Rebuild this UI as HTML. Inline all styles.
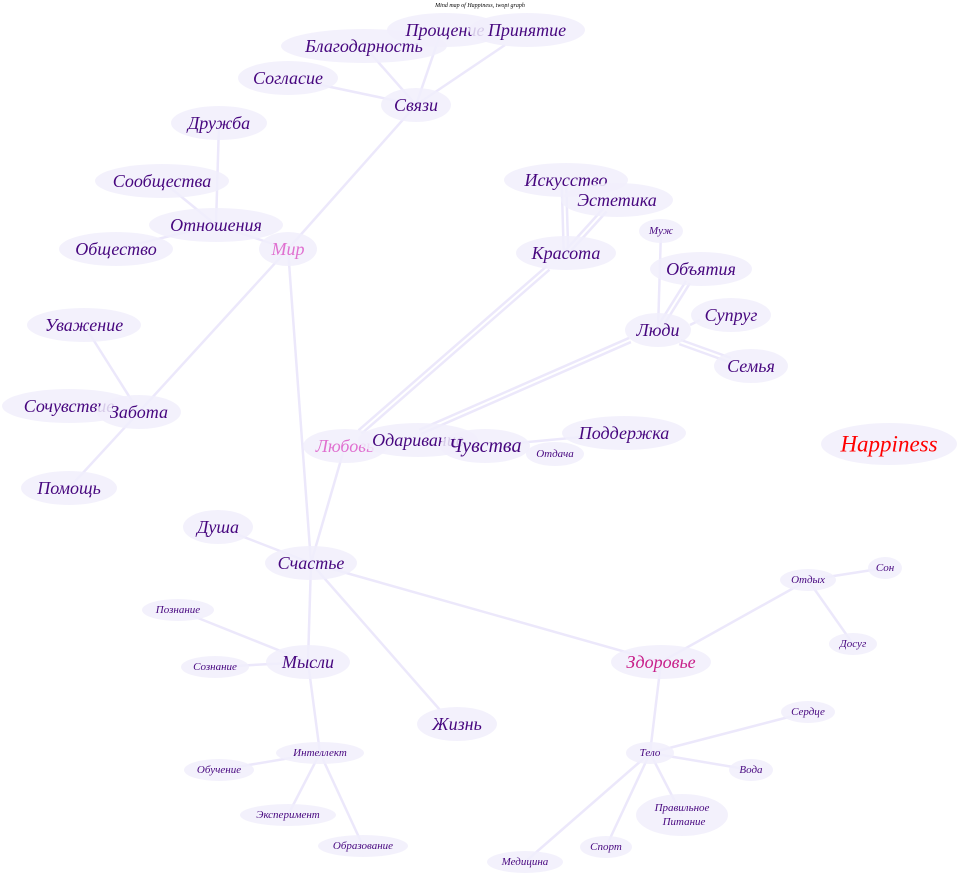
<!DOCTYPE html>
<html><head><meta charset="utf-8">
<style>
html,body{margin:0;padding:0;background:#fff;}
svg{display:block;}
text{font-family:"Liberation Serif",serif;font-style:italic;text-anchor:middle;dominant-baseline:central;fill:#47077f;}
.e{stroke:#ece8fb;stroke-width:2.5;fill:none;}
.d{stroke:#ece8fb;stroke-width:7;fill:none;}
.dw{stroke:#fff;stroke-width:2;fill:none;}
ellipse{fill:#f1effc;fill-opacity:0.85;}
</style></head><body>
<svg width="960" height="878" viewBox="0 0 960 878" xmlns="http://www.w3.org/2000/svg">
<g>
<line class="e" x1="416" y1="105" x2="364" y2="46"/>
<line class="e" x1="416" y1="105" x2="440" y2="35"/>
<line class="e" x1="416" y1="105" x2="505" y2="45"/>
<line class="e" x1="416" y1="105" x2="288" y2="78"/>
<line class="e" x1="416" y1="105" x2="288" y2="249"/>
<line class="e" x1="216" y1="225" x2="219" y2="123"/>
<line class="e" x1="216" y1="225" x2="162" y2="181"/>
<line class="e" x1="216" y1="225" x2="116" y2="249"/>
<line class="e" x1="216" y1="225" x2="288" y2="249"/>
<line class="e" x1="288" y1="249" x2="139" y2="412"/>
<line class="e" x1="288" y1="249" x2="311" y2="563"/>
<line class="e" x1="139" y1="412" x2="84" y2="325"/>
<line class="e" x1="139" y1="412" x2="69" y2="406"/>
<line class="e" x1="139" y1="412" x2="69" y2="488"/>
<line class="e" x1="661" y1="231" x2="658" y2="330"/>
<line class="e" x1="485" y1="446" x2="624" y2="433"/>
<line class="e" x1="345" y1="446" x2="311" y2="563"/>
<line class="e" x1="311" y1="563" x2="218" y2="527"/>
<line class="e" x1="311" y1="563" x2="308" y2="662"/>
<line class="e" x1="311" y1="563" x2="440" y2="710"/>
<line class="e" x1="311" y1="563" x2="661" y2="662"/>
<line class="e" x1="308" y1="662" x2="178" y2="610"/>
<line class="e" x1="308" y1="662" x2="215" y2="667"/>
<line class="e" x1="308" y1="662" x2="320" y2="753"/>
<line class="e" x1="320" y1="753" x2="219" y2="770"/>
<line class="e" x1="320" y1="753" x2="288" y2="815"/>
<line class="e" x1="320" y1="753" x2="363" y2="846"/>
<line class="e" x1="661" y1="662" x2="808" y2="580"/>
<line class="e" x1="661" y1="662" x2="650" y2="753"/>
<line class="e" x1="808" y1="580" x2="885" y2="568"/>
<line class="e" x1="808" y1="580" x2="853" y2="644"/>
<line class="e" x1="650" y1="753" x2="808" y2="712"/>
<line class="e" x1="650" y1="753" x2="751" y2="770"/>
<line class="e" x1="650" y1="753" x2="682" y2="815"/>
<line class="e" x1="650" y1="753" x2="606" y2="847"/>
<line class="e" x1="650" y1="753" x2="525" y2="862"/>
<line class="d" x1="566" y1="253" x2="564" y2="185"/><line class="dw" x1="566" y1="253" x2="564" y2="185"/>
<line class="d" x1="566" y1="253" x2="605" y2="210"/><line class="dw" x1="566" y1="253" x2="605" y2="210"/>
<line class="d" x1="548" y1="268" x2="360" y2="432"/><line class="dw" x1="548" y1="268" x2="360" y2="432"/>
<line class="d" x1="658" y1="330" x2="688" y2="282"/><line class="dw" x1="658" y1="330" x2="688" y2="282"/>
<line class="d" x1="680" y1="342" x2="730" y2="360"/><line class="dw" x1="680" y1="342" x2="730" y2="360"/>
<line class="d" x1="630" y1="340" x2="420" y2="432"/><line class="dw" x1="630" y1="340" x2="420" y2="432"/>
<line class="e" x1="690" y1="325" x2="700" y2="320"/>
</g>
<text x="480" y="6" style="font-size:6px;fill:#000">Mind map of Happiness, twopi graph</text>
<ellipse cx="364" cy="46" rx="83" ry="17"/><text x="364" y="46" font-size="18">Благодарность</text>
<ellipse cx="445" cy="30" rx="58" ry="17"/><text x="445" y="30" font-size="18">Прощение</text>
<ellipse cx="527" cy="30" rx="58" ry="17"/><text x="527" y="30" font-size="18">Принятие</text>
<ellipse cx="288" cy="78" rx="50" ry="17"/><text x="288" y="78" font-size="18">Согласие</text>
<ellipse cx="416" cy="105" rx="35" ry="17"/><text x="416" y="105" font-size="18">Связи</text>
<ellipse cx="219" cy="123" rx="48" ry="17"/><text x="219" y="123" font-size="18">Дружба</text>
<ellipse cx="162" cy="181" rx="67" ry="17"/><text x="162" y="181" font-size="18">Сообщества</text>
<ellipse cx="216" cy="225" rx="67" ry="17"/><text x="216" y="225" font-size="18">Отношения</text>
<ellipse cx="116" cy="249" rx="57" ry="17"/><text x="116" y="249" font-size="18">Общество</text>
<ellipse cx="288" cy="249" rx="29" ry="17"/><text x="288" y="249" font-size="18" style="fill:#e070d0">Мир</text>
<ellipse cx="566" cy="180" rx="62" ry="17"/><text x="566" y="180" font-size="18">Искусство</text>
<ellipse cx="617" cy="200" rx="56" ry="17"/><text x="617" y="200" font-size="18">Эстетика</text>
<ellipse cx="661" cy="231" rx="22" ry="12"/><text x="661" y="231" font-size="11">Муж</text>
<ellipse cx="566" cy="253" rx="50" ry="17"/><text x="566" y="253" font-size="18">Красота</text>
<ellipse cx="701" cy="269" rx="51" ry="17"/><text x="701" y="269" font-size="18">Объятия</text>
<ellipse cx="731" cy="315" rx="40" ry="17"/><text x="731" y="315" font-size="18">Супруг</text>
<ellipse cx="658" cy="330" rx="33" ry="17"/><text x="658" y="330" font-size="18">Люди</text>
<ellipse cx="751" cy="366" rx="37" ry="17"/><text x="751" y="366" font-size="18">Семья</text>
<ellipse cx="84" cy="325" rx="57" ry="17"/><text x="84" y="325" font-size="18">Уважение</text>
<ellipse cx="69" cy="406" rx="67" ry="17"/><text x="69" y="406" font-size="18">Сочувствие</text>
<ellipse cx="139" cy="412" rx="42" ry="17"/><text x="139" y="412" font-size="18">Забота</text>
<ellipse cx="69" cy="488" rx="48" ry="17"/><text x="69" y="488" font-size="18">Помощь</text>
<ellipse cx="345" cy="446" rx="42" ry="17"/><text x="345" y="446" font-size="18" style="fill:#e070d0">Любовь</text>
<ellipse cx="418" cy="440" rx="60" ry="17"/><text x="418" y="440" font-size="18">Одаривание</text>
<ellipse cx="485" cy="446" rx="45" ry="17"/><text x="485" y="446" font-size="20">Чувства</text>
<ellipse cx="624" cy="433" rx="62" ry="17"/><text x="624" y="433" font-size="18">Поддержка</text>
<ellipse cx="555" cy="454" rx="29" ry="12"/><text x="555" y="454" font-size="11">Отдача</text>
<ellipse cx="889" cy="444" rx="68" ry="21"/><text x="889" y="444" font-size="23" style="fill:#ff0000">Happiness</text>
<ellipse cx="218" cy="527" rx="35" ry="17"/><text x="218" y="527" font-size="18">Душа</text>
<ellipse cx="311" cy="563" rx="46" ry="17"/><text x="311" y="563" font-size="18">Счастье</text>
<ellipse cx="178" cy="610" rx="36" ry="11"/><text x="178" y="610" font-size="11">Познание</text>
<ellipse cx="215" cy="667" rx="34" ry="11"/><text x="215" y="667" font-size="11">Сознание</text>
<ellipse cx="308" cy="662" rx="42" ry="17"/><text x="308" y="662" font-size="18">Мысли</text>
<ellipse cx="661" cy="662" rx="50" ry="17"/><text x="661" y="662" font-size="18" style="fill:#c8208a">Здоровье</text>
<ellipse cx="808" cy="580" rx="28" ry="11"/><text x="808" y="580" font-size="11">Отдых</text>
<ellipse cx="885" cy="568" rx="17" ry="11"/><text x="885" y="568" font-size="11">Сон</text>
<ellipse cx="853" cy="644" rx="24" ry="11"/><text x="853" y="644" font-size="11">Досуг</text>
<ellipse cx="457" cy="724" rx="40" ry="17"/><text x="457" y="724" font-size="18">Жизнь</text>
<ellipse cx="320" cy="753" rx="44" ry="11"/><text x="320" y="753" font-size="11">Интеллект</text>
<ellipse cx="219" cy="770" rx="35" ry="11"/><text x="219" y="770" font-size="11">Обучение</text>
<ellipse cx="288" cy="815" rx="48" ry="11"/><text x="288" y="815" font-size="11">Эксперимент</text>
<ellipse cx="363" cy="846" rx="45" ry="11"/><text x="363" y="846" font-size="11">Образование</text>
<ellipse cx="650" cy="753" rx="24" ry="11"/><text x="650" y="753" font-size="11">Тело</text>
<ellipse cx="808" cy="712" rx="27" ry="11"/><text x="808" y="712" font-size="11">Сердце</text>
<ellipse cx="751" cy="770" rx="22" ry="11"/><text x="751" y="770" font-size="11">Вода</text>
<ellipse cx="682" cy="815" rx="46" ry="21"/><text x="682" y="808" font-size="11">Правильное</text><text x="684" y="822" font-size="11">Питание</text>
<ellipse cx="606" cy="847" rx="26" ry="11"/><text x="606" y="847" font-size="11">Спорт</text>
<ellipse cx="525" cy="862" rx="38" ry="11"/><text x="525" y="862" font-size="11">Медицина</text>
</svg>
</body></html>
